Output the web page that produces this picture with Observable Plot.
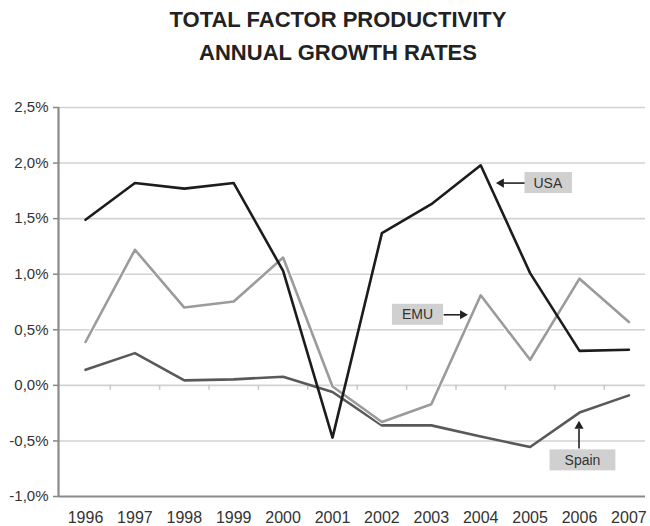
<!DOCTYPE html>
<html>
<head>
<meta charset="utf-8">
<script src="https://cdn.jsdelivr.net/npm/d3@7"></script>
<script src="https://cdn.jsdelivr.net/npm/@observablehq/plot@0.6"></script>
<style>
  html, body { margin: 0; padding: 0; background: #fff; }
  #wrap { width: 650px; height: 526px; position: relative; }
  #title { position: absolute; left: 13px; top: 3px; width: 650px; text-align: center;
    font-family: "Liberation Sans", Arial, sans-serif; font-weight: bold; font-size: 22px;
    line-height: 33px; color: #222; }
  #chart { position: absolute; left: 0; top: 80px; }
</style>
</head>
<body>
<div id="wrap">
  <div id="title">TOTAL FACTOR PRODUCTIVITY<br>ANNUAL GROWTH RATES</div>
  <div id="chart"></div>
</div>
<script>
// ---- data ----
const years = [1996, 1997, 1998, 1999, 2000, 2001, 2002, 2003, 2004, 2005, 2006, 2007];
const usa   = [1.49, 1.82, 1.77, 1.82, 1.03, -0.47, 1.37, 1.63, 1.98, 1.01, 0.31, 0.32];
const emu   = [0.39, 1.22, 0.70, 0.755, 1.15, -0.01, -0.33, -0.17, 0.81, 0.23, 0.96, 0.57];
const spain = [0.14, 0.29, 0.045, 0.054, 0.078, -0.06, -0.36, -0.36, -0.46, -0.555, -0.245, -0.09];
const yTicks = [-1, -0.5, 0, 0.5, 1, 1.5, 2, 2.5];
const xDomain = [1995.453, 2007.336];

// annotations (data coordinates)
const annLabels = ["USA", "EMU", "Spain"];
const annX = [2005.36, 2002.72, 2006.06];
const annY = [1.82, 0.635, -0.675];
const arrowX1 = [2005.08, 2003.25, 2005.99];
const arrowY1 = [1.82, 0.635, -0.567];
const arrowX2 = [2004.34, 2003.71, 2005.99];
const arrowY2 = [1.82, 0.635, -0.333];

// ---- build ----
const rows = (name, vals) => years.map((y, i) => ({series: name, year: y, value: vals[i]}));
const dataUSA = rows("USA", usa), dataEMU = rows("EMU", emu), dataSpain = rows("Spain", spain);
const ann = annLabels.map((l, i) => ({label: l, x: annX[i], y: annY[i]}));
const arrows = annLabels.map((l, i) => {
  const x1 = arrowX1[i], y1 = arrowY1[i], x2 = arrowX2[i], y2 = arrowY2[i];
  const horiz = y1 === y2;
  const dir = horiz ? Math.sign(x2 - x1) : Math.sign(y2 - y1);
  const hx = horiz ? x2 - dir * 0.075 : x2;
  const hy = horiz ? y2 : y2 - dir * 0.034;
  const lx = horiz ? x2 - dir * 0.12 : x2;
  const ly = horiz ? y2 : y2 - dir * 0.06;
  const rot = horiz ? (dir > 0 ? 90 : -90) : (dir > 0 ? 0 : 180);
  return {x1, y1, x2: lx, y2: ly, hx, hy, rot};
});
const mids = years.slice(0, -1).map(y => y + 0.5);

const font = "'Liberation Sans', Arial, sans-serif";
const plot = Plot.plot({
  width: 650,
  height: 446,
  marginLeft: 58,
  marginRight: 5,
  marginTop: 27,
  marginBottom: 30,
  style: {fontFamily: font, fontSize: "14px", color: "#333", background: "#fff"},
  x: {domain: xDomain, axis: null},
  y: {domain: [-1, 2.5], axis: null},
  marks: [
    Plot.ruleY(yTicks.filter(d => d > -1), {stroke: "#d2d2d2", strokeWidth: 1.6}),
    Plot.ruleX(mids, {y1: 0, y2: -0.045, stroke: "#c8c8c8", strokeWidth: 1.5}),
    Plot.axisY(yTicks, {tickSize: 5, tickPadding: 5, stroke: "#888", strokeWidth: 1.5,
      tickFormat: d => d.toFixed(1).replace(".", ",") + "%", fontSize: 15, fill: "#333"}),
    Plot.axisX(years, {tickSize: 0, tickPadding: 15, tickFormat: d => String(d), fontSize: 16, fill: "#333"}),
    Plot.ruleY([-1], {stroke: "#8a8a8a", strokeWidth: 2.2}),
    Plot.ruleX([xDomain[0]], {stroke: "#8a8a8a", strokeWidth: 2.2}),
    Plot.line(dataSpain, {x: "year", y: "value", stroke: "#595959", strokeWidth: 2.6}),
    Plot.line(dataEMU, {x: "year", y: "value", stroke: "#ffffff", strokeWidth: 4.5}),
    Plot.line(dataEMU, {x: "year", y: "value", stroke: "#9b9b9b", strokeWidth: 2.6}),
    Plot.line(dataUSA, {x: "year", y: "value", stroke: "#1c1c1c", strokeWidth: 2.6}),
    Plot.link(arrows, {x1: "x1", y1: "y1", x2: "x2", y2: "y2", stroke: "#222", strokeWidth: 1.6}),
    Plot.dot(arrows, {x: "hx", y: "hy", symbol: "triangle", r: 3.4, fill: "#222", stroke: "none", rotate: "rot"}),
    Plot.text(ann, {x: "x", y: "y", text: "label", fill: "#333", fontSize: 14})
  ]
});
document.getElementById("chart").appendChild(plot);

// grey boxes behind annotation labels
const padX = {USA: 9, EMU: 10, Spain: 15};
d3.select(plot).selectAll("g[aria-label='text'] text").each(function() {
  const bb = this.getBBox();
  const p = padX[this.textContent] ?? 10;
  const parent = this.parentNode;
  const r = document.createElementNS("http://www.w3.org/2000/svg", "rect");
  r.setAttribute("x", bb.x - p);
  r.setAttribute("y", bb.y + bb.height / 2 - 10.5);
  r.setAttribute("width", bb.width + 2 * p);
  r.setAttribute("height", 21);
  r.setAttribute("fill", "#d0d0d0");
  const t = this.getAttribute("transform");
  if (t) r.setAttribute("transform", t);
  parent.insertBefore(r, this);
});
</script>
</body>
</html>
